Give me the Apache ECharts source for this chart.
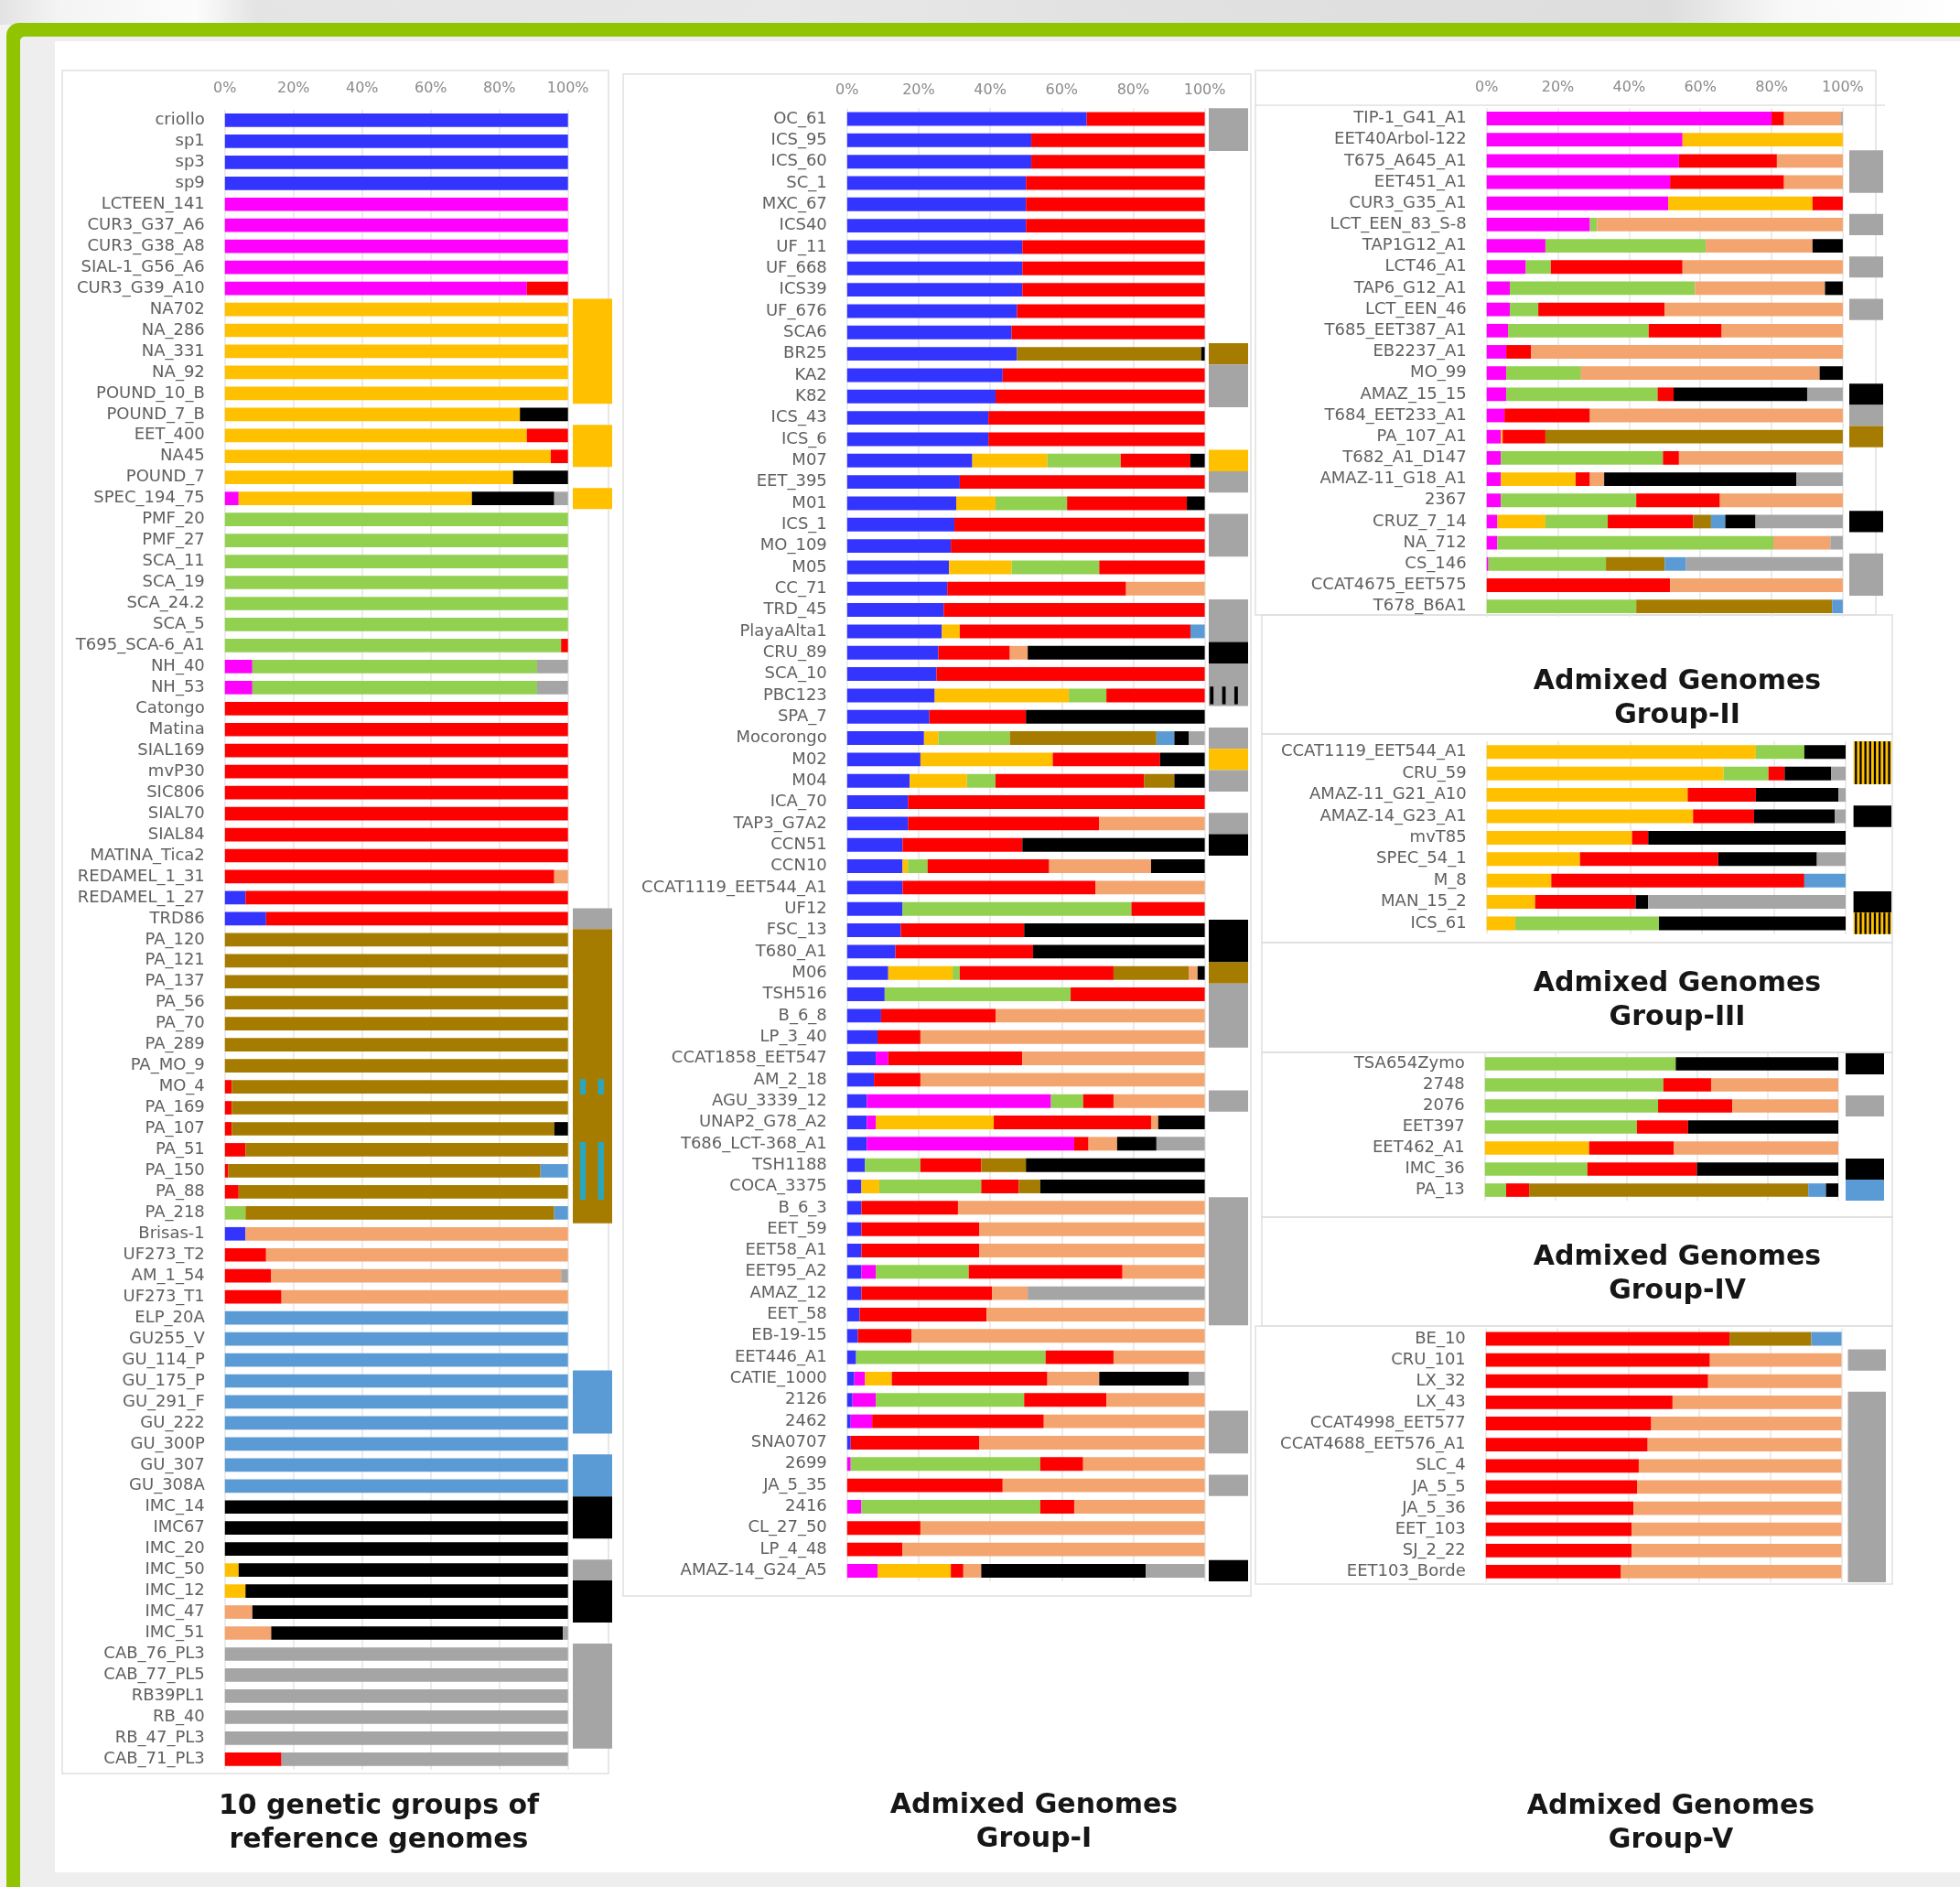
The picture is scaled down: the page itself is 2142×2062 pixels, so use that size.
<!DOCTYPE html>
<html>
<head>
<meta charset="utf-8">
<script src="https://cdn.jsdelivr.net/npm/echarts/dist/echarts.min.js"></script>
<style>
  html, body { margin: 0; padding: 0; background: #fff; }
  #chart { width: 2142px; height: 2062px; }
</style>
</head>
<body>
<div id="chart"></div>
<script>
// Ancestry shares per accession, in stacking order:
// [blue, magenta, orange, green, red, brown, salmon, light blue, black, grey]
// Trailing zero components are omitted.
const SHARE_COLOURS = ['#3434FF', '#FF00FF', '#FFC000', '#92D050', '#FF0000',
                       '#A67C00', '#F4A46E', '#5B9BD5', '#000000', '#A5A5A5'];
const TEAL = '#2BA6BF';
const FONT = '"DejaVu Sans", Verdana, sans-serif';
const tickLabels = ['0%', '20%', '40%', '60%', '80%', '100%'];

// ---- 10 genetic groups of reference genomes ----
const refNames = ['criollo','sp1','sp3','sp9','LCTEEN_141','CUR3_G37_A6','CUR3_G38_A8','SIAL-1_G56_A6','CUR3_G39_A10',
  'NA702','NA_286','NA_331','NA_92','POUND_10_B','POUND_7_B','EET_400','NA45','POUND_7','SPEC_194_75',
  'PMF_20','PMF_27','SCA_11','SCA_19','SCA_24.2','SCA_5','T695_SCA-6_A1','NH_40','NH_53',
  'Catongo','Matina','SIAL169','mvP30','SIC806','SIAL70','SIAL84','MATINA_Tica2','REDAMEL_1_31','REDAMEL_1_27','TRD86',
  'PA_120','PA_121','PA_137','PA_56','PA_70','PA_289','PA_MO_9','MO_4','PA_169','PA_107','PA_51','PA_150','PA_88','PA_218',
  'Brisas-1','UF273_T2','AM_1_54','UF273_T1',
  'ELP_20A','GU255_V','GU_114_P','GU_175_P','GU_291_F','GU_222','GU_300P','GU_307','GU_308A',
  'IMC_14','IMC67','IMC_20','IMC_50','IMC_12','IMC_47','IMC_51',
  'CAB_76_PL3','CAB_77_PL5','RB39PL1','RB_40','RB_47_PL3','CAB_71_PL3'];
const refShares = [
  [100],[100],[100],[100],
  [0,100],[0,100],[0,100],[0,100],[0,88,0,0,12],
  [0,0,100],[0,0,100],[0,0,100],[0,0,100],[0,0,100],
  [0,0,86,0,0,0,0,0,14],[0,0,88,0,12],[0,0,95,0,5],[0,0,84,0,0,0,0,0,16],[0,4,68,0,0,0,0,0,24,4],
  [0,0,0,100],[0,0,0,100],[0,0,0,100],[0,0,0,100],[0,0,0,100],[0,0,0,100],
  [0,0,0,98,2],[0,8,0,83,0,0,0,0,0,9],[0,8,0,83,0,0,0,0,0,9],
  [0,0,0,0,100],[0,0,0,0,100],[0,0,0,0,100],[0,0,0,0,100],[0,0,0,0,100],[0,0,0,0,100],[0,0,0,0,100],[0,0,0,0,100],
  [0,0,0,0,96,0,4],[6,0,0,0,94],[12,0,0,0,88],
  [0,0,0,0,0,100],[0,0,0,0,0,100],[0,0,0,0,0,100],[0,0,0,0,0,100],[0,0,0,0,0,100],[0,0,0,0,0,100],[0,0,0,0,0,100],
  [0,0,0,0,2,98],[0,0,0,0,2,98],[0,0,0,0,2,94,0,0,4],[0,0,0,0,6,94],[0,0,0,0,1,91,0,8],[0,0,0,0,4,96],[0,0,0,6,0,90,0,4],
  [6,0,0,0,0,0,94],[0,0,0,0,12,0,88],[0,0,0,0,13.5,0,84.5,0,0,2],[0,0,0,0,16.5,0,83.5],
  [0,0,0,0,0,0,0,100],[0,0,0,0,0,0,0,100],[0,0,0,0,0,0,0,100],[0,0,0,0,0,0,0,100],[0,0,0,0,0,0,0,100],
  [0,0,0,0,0,0,0,100],[0,0,0,0,0,0,0,100],[0,0,0,0,0,0,0,100],[0,0,0,0,0,0,0,100],
  [0,0,0,0,0,0,0,0,100],[0,0,0,0,0,0,0,0,100],[0,0,0,0,0,0,0,0,100],
  [0,0,4,0,0,0,0,0,96],[0,0,6,0,0,0,0,0,94],[0,0,0,0,0,0,8,0,92],[0,0,0,0,0,0,13.5,0,85,1.5],
  [0,0,0,0,0,0,0,0,0,100],[0,0,0,0,0,0,0,0,0,100],[0,0,0,0,0,0,0,0,0,100],[0,0,0,0,0,0,0,0,0,100],[0,0,0,0,0,0,0,0,0,100],
  [0,0,0,0,16.5,0,0,0,0,83.5]
];
// Side tags: [first row, last row, colour index (10 = teal), pattern]
// pattern: 0 plain, 1 twin dashes, 2 three bars, 3 vertical stripes
const refTags = [[9,13,2],[15,16,2],[18,18,2],[38,38,9],[39,52,5],[46,46,10,1],[49,51,10,1],
  [60,62,7],[64,65,7],[66,67,8],[69,69,9],[70,71,8],[73,77,9]];

// ---- Admixed Genomes Group-I ----
const g1Names = ['OC_61','ICS_95','ICS_60','SC_1','MXC_67','ICS40','UF_11','UF_668','ICS39','UF_676','SCA6','BR25',
  'KA2','K82','ICS_43','ICS_6','M07','EET_395','M01','ICS_1','MO_109','M05','CC_71','TRD_45','PlayaAlta1','CRU_89',
  'SCA_10','PBC123','SPA_7','Mocorongo','M02','M04','ICA_70','TAP3_G7A2','CCN51','CCN10','CCAT1119_EET544_A1','UF12',
  'FSC_13','T680_A1','M06','TSH516','B_6_8','LP_3_40','CCAT1858_EET547','AM_2_18','AGU_3339_12','UNAP2_G78_A2',
  'T686_LCT-368_A1','TSH1188','COCA_3375','B_6_3','EET_59','EET58_A1','EET95_A2','AMAZ_12','EET_58','EB-19-15',
  'EET446_A1','CATIE_1000','2126','2462','SNA0707','2699','JA_5_35','2416','CL_27_50','LP_4_48','AMAZ-14_G24_A5'];
const g1Shares = [
  [67,0,0,0,33],[51.5,0,0,0,48.5],[51.5,0,0,0,48.5],[50,0,0,0,50],[50,0,0,0,50],[50,0,0,0,50],
  [49,0,0,0,51],[49,0,0,0,51],[49,0,0,0,51],[47.5,0,0,0,52.5],[46,0,0,0,54],[47.5,0,0,0,0,51.5,0,0,1],
  [43.5,0,0,0,56.5],[41.5,0,0,0,58.5],[39.5,0,0,0,60.5],[39.5,0,0,0,60.5],
  [35,0,21,20.5,19.5,0,0,0,4],[31.5,0,0,0,68.5],[30.5,0,11,20,33.5,0,0,0,5],[30,0,0,0,70],[29,0,0,0,71],
  [28.5,0,17.5,24.5,29.5],[28,0,0,0,50,0,22],[27,0,0,0,73],[26.5,0,5,0,64.5,0,0,4],[25.5,0,0,0,20,0,5,0,49.5],
  [25,0,0,0,75],[24.5,0,37.5,10.5,27.5],[23,0,0,0,27,0,0,0,50],[21.5,0,4,20,0,41,0,5,4,4.5],
  [20.5,0,37,0,30,0,0,0,12.5],[17.5,0,16,8,41.5,8.5,0,0,8.5],[17,0,0,0,83],[17,0,0,0,53.5,0,29.5],
  [15.5,0,0,0,33.5,0,0,0,51],[15.5,0,1.5,5.5,34,0,28.5,0,15],[15.5,0,0,0,54,0,30.5],[15.5,0,0,64,20.5],
  [15,0,0,0,34.5,0,0,0,50.5],[13.5,0,0,0,38.5,0,0,0,48],[11.5,0,18,2,43,21,2.5,0,2],[10.5,0,0,52,37.5],
  [9.5,0,0,0,32,0,58.5],[8.5,0,0,0,12,0,79.5],[8,3.5,0,0,37.5,0,51],[7.5,0,0,0,13,0,79.5],
  [5.5,51.5,0,9,8.5,0,25.5],[5.5,2.5,33,0,44,0,2,0,13],[5.5,58,0,0,4,0,8,0,11,13.5],
  [5,0,0,15.5,17,12.5,0,0,50],[4,0,5,28.5,10.5,6,0,0,46],[4,0,0,0,27,0,69],[4,0,0,0,33,0,63],[4,0,0,0,33,0,63],
  [4,4,0,26,43,0,23],[4,0,0,0,36.5,0,10,0,0,49.5],[3.5,0,0,0,35.5,0,61],[3,0,0,0,15,0,82],
  [2.5,0,0,53,19,0,25.5],[2,3,7.5,0,43.5,0,14.5,0,25,4.5],[1.5,6.5,0,41.5,23,0,27.5],[1,6,0,0,48,0,45],
  [1,0,0,0,36,0,63],[0,1,0,53,12,0,34],[0,0,0,0,43.5,0,56.5],[0,4,0,50,9.5,0,36.5],[0,0,0,0,20.5,0,79.5],
  [0,0,0,0,15.5,0,84.5],[0,8.5,20.5,0,3.5,0,5,0,46,16.5]
];
const g1Tags = [[0,1,9],[11,11,5],[12,13,9],[16,16,2],[17,17,9],[19,20,9],[23,24,9],[25,25,8],[26,27,9],[27,27,8,2],
  [29,29,9],[30,30,2],[31,31,9],[33,33,9],[34,34,8],[38,39,8],[40,40,5],[41,43,9],[46,46,9],[51,56,9],
  [61,62,9],[64,64,9],[68,68,8]];

// ---- Right column, upper block (no separate heading) ----
const gRNames = ['TIP-1_G41_A1','EET40Arbol-122','T675_A645_A1','EET451_A1','CUR3_G35_A1','LCT_EEN_83_S-8',
  'TAP1G12_A1','LCT46_A1','TAP6_G12_A1','LCT_EEN_46','T685_EET387_A1','EB2237_A1','MO_99','AMAZ_15_15',
  'T684_EET233_A1','PA_107_A1','T682_A1_D147','AMAZ-11_G18_A1','2367','CRUZ_7_14','NA_712','CS_146',
  'CCAT4675_EET575','T678_B6A1'];
const gRShares = [
  [0,80,0,0,3.5,0,16,0,0,0.5],[0,55,45],[0,54,0,0,27.5,0,18.5],[0,51.5,0,0,32,0,16.5],[0,51,40.5,0,8.5],
  [0,29,0,2,0,0,69],[0,16.5,0,45,0,0,30,0,8.5],[0,11,0,7,37,0,45],[0,6.5,0,52,0,0,36.5,0,5],
  [0,6.5,0,8,35.5,0,50],[0,6,0,39.5,20.5,0,34],[0,5.5,0,0,7,0,87.5],[0,5.5,0,21,0,0,67,0,6.5],
  [0,5.5,0,42.5,4.5,0,0,0,37.5,10],[0,5,0,0,24,0,71],[0,4,0.5,0,12,83.5],[0,4,0,45.5,4.5,0,46],
  [0,4,21,0,4,0,4,0,54,13],[0,4,0,38,23.5,0,34.5],[0,3,13.5,17.5,24,5,0,4,8.5,24.5],[0,3,0,77.5,0,0,16,0,0,3.5],
  [0,0.5,0,33,0,16.5,0,6,0,44],[0,0,0,0,51.5,0,48.5],[0,0,0,42,0,55,0,3]
];
const gRTags = [[2,3,9],[5,5,9],[7,7,9],[9,9,9],[13,13,8],[14,14,9],[15,15,5],[19,19,8],[21,22,9]];

// ---- Admixed Genomes Group-II ----
const g2Names = ['CCAT1119_EET544_A1','CRU_59','AMAZ-11_G21_A10','AMAZ-14_G23_A1','mvT85','SPEC_54_1','M_8','MAN_15_2','ICS_61'];
const g2Shares = [
  [0,0,75,13.5,0,0,0,0,11.5],[0,0,66,12.5,4.5,0,0,0,13,4],[0,0,56,0,19,0,0,0,23,2],[0,0,57.5,0,17,0,0,0,22.5,3],
  [0,0,40.5,0,4.5,0,0,0,55],[0,0,26,0,38.5,0,0,0,27.5,8],[0,0,18,0,70.5,0,0,11.5],[0,0,13.5,0,28,0,0,0,3.5,55],
  [0,0,8,40,0,0,0,0,52]
];
const g2Tags = [[0,1,2,3],[3,3,8],[7,7,8],[8,8,2,3]];

// ---- Admixed Genomes Group-III ----
const g3Names = ['TSA654Zymo','2748','2076','EET397','EET462_A1','IMC_36','PA_13'];
const g3Shares = [
  [0,0,0,54,0,0,0,0,46],[0,0,0,50.5,13.5,0,36],[0,0,0,49,21,0,30],[0,0,0,43,14.5,0,0,0,42.5],
  [0,0,29.5,0,24,0,46.5],[0,0,0,29,31,0,0,0,40],[0,0,0,6,6.5,79,0,5,3.5]
];
const g3Tags = [[0,0,8],[2,2,9],[5,5,8],[6,6,7]];

// ---- Admixed Genomes Group-IV ----
const g4Names = ['BE_10','CRU_101','LX_32','LX_43','CCAT4998_EET577','CCAT4688_EET576_A1','SLC_4','JA_5_5','JA_5_36',
  'EET_103','SJ_2_22','EET103_Borde'];
const g4Shares = [
  [0,0,0,0,68.5,23,0,8.5],[0,0,0,0,63,0,37],[0,0,0,0,62.5,0,37.5],[0,0,0,0,52.5,0,47.5],[0,0,0,0,46.5,0,53.5],
  [0,0,0,0,45.5,0,54.5],[0,0,0,0,43,0,57],[0,0,0,0,42.5,0,57.5],[0,0,0,0,41.5,0,58.5],[0,0,0,0,41,0,59],
  [0,0,0,0,41,0,59],[0,0,0,0,38,0,62]
];
const g4Tags = [[1,1,9],[3,11,9]];

// Panel placement (pixels): bar area, tag column, first row centre, row pitch
const panels = [
  { names: refNames, shares: refShares, tags: refTags, bar: [245.8, 620.7], tag: [626, 669], row0: 131.4, step: 22.96, ticks: true, gap: 15 },
  { names: g1Names, shares: g1Shares, tags: g1Tags, bar: [925.8, 1316.6], tag: [1321, 1364], row0: 130, step: 23.33, ticks: true, gap: 11 },
  { names: gRNames, shares: gRShares, tags: gRTags, bar: [1624.7, 2013.9], tag: [2021, 2058], row0: 129.5, step: 23.18, ticks: true, gap: 14 },
  { names: g2Names, shares: g2Shares, tags: g2Tags, bar: [1624.7, 2017], tag: [2025.6, 2067], row0: 821.8, step: 23.4, ticks: false, gap: 14 },
  { names: g3Names, shares: g3Shares, tags: g3Tags, bar: [1622.8, 2009], tag: [2017, 2059], row0: 1162.5, step: 23.0, ticks: false, gap: 14 },
  { names: g4Names, shares: g4Shares, tags: g4Tags, bar: [1623.8, 2012.5], tag: [2019.5, 2061], row0: 1463, step: 23.13, ticks: false, gap: 14 }
];

function renderTag(params, api) {
  const a = api.value(0), b = api.value(1), ci = api.value(2), code = api.value(3);
  const band = api.size([0, 1])[1];
  const p0 = api.coord([0, a]), p1 = api.coord([1, b]);
  const x = p0[0], w = p1[0] - p0[0];
  const y = p0[1] - band / 2, h = p1[1] + band / 2 - y;
  const colour = ci === 10 ? TEAL : SHARE_COLOURS[ci];
  const kids = [];
  if (code === 0 || code === 3) {
    kids.push({ type: 'rect', shape: { x: x, y: y, width: w, height: h }, style: { fill: colour } });
  }
  if (code === 1) {
    [[0.18, 0.33], [0.64, 0.79]].forEach(function (f) {
      kids.push({ type: 'rect', shape: { x: x + w * f[0], y: y + 3, width: w * (f[1] - f[0]), height: h - 6 }, style: { fill: colour } });
    });
  }
  if (code === 2) {
    [0.03, 0.34, 0.65].forEach(function (f) {
      kids.push({ type: 'rect', shape: { x: x + w * f, y: y + 2, width: w * 0.09, height: h - 4 }, style: { fill: colour } });
    });
  }
  if (code === 3) {
    for (let k = 0; k < 8; k++) {
      kids.push({ type: 'rect', shape: { x: x + w * (k + 0.3) / 8, y: y, width: w * 0.055, height: h }, style: { fill: '#000' } });
    }
  }
  return { type: 'group', children: kids };
}

const grid = [], xAxis = [], yAxis = [], series = [];
panels.forEach(function (p, i) {
  const n = p.names.length;
  const top = p.row0 - p.step / 2, height = n * p.step;
  const gb = 2 * i, gt = 2 * i + 1;
  grid.push({ left: p.bar[0], width: p.bar[1] - p.bar[0], top: top, height: height });
  grid.push({ left: p.tag[0], width: p.tag[1] - p.tag[0], top: top, height: height });
  xAxis.push({
    gridIndex: gb, type: 'value', min: 0, max: 100, interval: 20, position: 'top',
    axisLine: { show: false }, axisTick: { show: false },
    axisLabel: { show: p.ticks, formatter: function (v) { return tickLabels[Math.round(v / 20)]; },
      margin: p.gap, color: '#8a8a8a', fontSize: 16, fontFamily: FONT },
    splitLine: { show: true, lineStyle: { color: '#e6e6e6', width: 1.5 } }
  });
  xAxis.push({ gridIndex: gt, type: 'value', min: 0, max: 1, show: false });
  yAxis.push({
    gridIndex: gb, type: 'category', data: p.names, inverse: true,
    axisLine: { show: false }, axisTick: { show: false }, splitLine: { show: false },
    axisLabel: { interval: 0, margin: 22, color: '#606060', fontSize: 18, fontFamily: FONT }
  });
  yAxis.push({ gridIndex: gt, type: 'category', data: p.names, inverse: true, show: false });
  SHARE_COLOURS.forEach(function (c, k) {
    series.push({
      type: 'bar', name: 'K' + (k + 1), xAxisIndex: gb, yAxisIndex: gb, stack: 'panel' + i,
      barCategoryGap: '36%', itemStyle: { color: c }, silent: true, animation: false,
      data: p.shares.map(function (r) { return r[k] || 0; })
    });
  });
  series.push({
    type: 'custom', xAxisIndex: gt, yAxisIndex: gt, silent: true, animation: false, clip: false,
    data: p.tags.map(function (t) { return [t[0], t[1], t[2], t[3] || 0]; }),
    renderItem: renderTag
  });
});

// Frame, panel outlines and headings
function box(x, y, w, h) {
  return { type: 'rect', z: -5, shape: { x: x, y: y, width: w, height: h },
    style: { fill: 'none', stroke: '#e0e0e0', lineWidth: 1.5 } };
}
function heading(x, y, text) {
  return { type: 'text', z: 10, x: x, y: y,
    style: { text: text, fill: '#161616', fontSize: 30, fontWeight: 'bold', fontFamily: FONT,
      align: 'center', verticalAlign: 'middle', lineHeight: 37 } };
}
const graphic = [
  { type: 'rect', z: -20, shape: { x: 0, y: 0, width: 2142, height: 2062 }, style: { fill: '#f3f3f3' } },
  { type: 'rect', z: -19, shape: { x: 0, y: 0, width: 2142, height: 27 },
    style: { fill: { type: 'linear', x: 0, y: 0, x2: 1, y2: 0, colorStops: [
      { offset: 0, color: '#e3e3e3' }, { offset: 0.03, color: '#f4f4f4' }, { offset: 0.1, color: '#fcfcfc' },
      { offset: 0.13, color: '#e4e4e4' }, { offset: 0.4, color: '#e8e8e8' }, { offset: 0.55, color: '#e2e2e2' },
      { offset: 0.85, color: '#dddddd' }, { offset: 0.91, color: '#f8f8f8' }, { offset: 1, color: '#ffffff' } ] } } },
  { type: 'rect', z: -18, shape: { x: 7, y: 25, width: 2200, height: 2100, r: [14, 0, 0, 0] }, style: { fill: '#91C400' } },
  { type: 'rect', z: -17, shape: { x: 22, y: 40, width: 2200, height: 2100, r: [5, 0, 0, 0] }, style: { fill: '#eeeeee' } },
  { type: 'rect', z: -16, shape: { x: 60, y: 45, width: 2082, height: 2001 }, style: { fill: '#ffffff' } },
  box(68, 77, 597, 1861),
  box(681, 81, 686, 1663),
  box(1372, 77, 678, 595),
  { type: 'line', z: -5, shape: { x1: 1372, y1: 115, x2: 2060, y2: 115 }, style: { stroke: '#e0e0e0', lineWidth: 1.5 } },
  box(1379, 672, 689, 130), box(1379, 802, 689, 228),
  box(1379, 1030, 689, 120), box(1379, 1150, 689, 180),
  box(1379, 1330, 689, 119), box(1372, 1449, 696, 282),
  heading(414, 1993, '10 genetic groups of\nreference genomes'),
  heading(1130, 1992, 'Admixed Genomes\nGroup-I'),
  heading(1826, 1993, 'Admixed Genomes\nGroup-V'),
  heading(1833, 764, 'Admixed Genomes\nGroup-II'),
  heading(1833, 1094, 'Admixed Genomes\nGroup-III'),
  heading(1833, 1393, 'Admixed Genomes\nGroup-IV')
];

const chart = echarts.init(document.getElementById('chart'), null, { renderer: 'canvas' });
chart.setOption({
  animation: false,
  backgroundColor: '#ffffff',
  graphic: graphic,
  grid: grid,
  xAxis: xAxis,
  yAxis: yAxis,
  series: series
});
</script>
</body>
</html>
